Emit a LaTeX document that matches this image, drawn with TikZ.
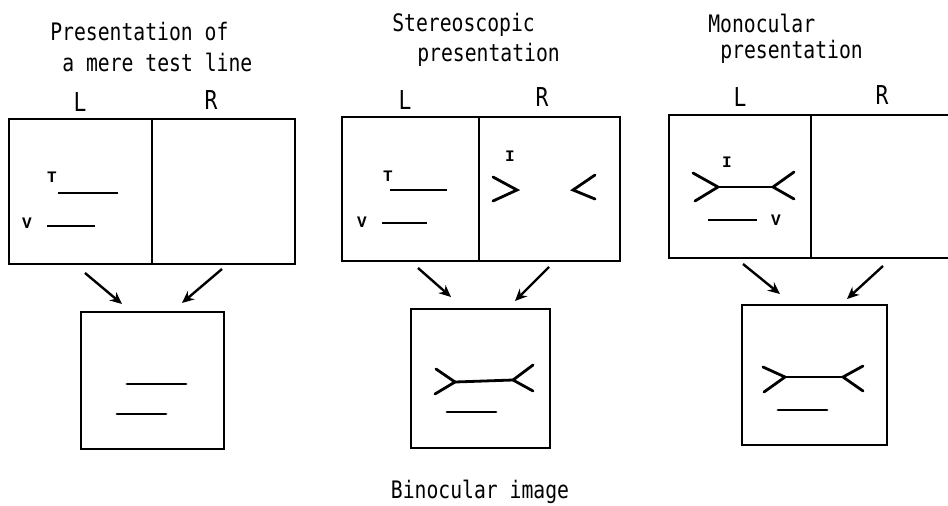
\documentclass[tikz,border=0pt]{standalone}
\usepackage{fontspec}
\usetikzlibrary{arrows.meta}
\newfontfamily\titlefont{DejaVu Sans Mono}
\newfontfamily\labfont{Liberation Mono}
\newcommand{\tall}[1]{\scalebox{1}[1.22]{#1}}
\begin{document}
\begin{tikzpicture}[x=0.75pt,y=-0.75pt,
  box/.style={draw, line width=1.6pt, inner sep=0pt, outer sep=0pt},
  fig/.style={line width=2.1pt, line cap=round},
  thin/.style={line width=1.6pt},
  title/.style={font=\titlefont\fontsize{14.8}{18}\selectfont, inner sep=0pt, anchor=west},
  eye/.style={font=\titlefont\fontsize{16}{18}\selectfont, inner sep=0pt},
  lab/.style={font=\labfont\bfseries\fontsize{12}{13}\selectfont, inner sep=0pt},
  arr/.style={-{Stealth[length=9pt,width=8pt]}, line width=1.8pt}]
\useasboundingbox (0,0) rectangle (948,506);

% ---------- panel 1 ----------
\node[title] (t1a) at (50,32) {\tall{Presentation of}};
\node[title] (t1b) at (62,62) {\tall{a mere test line}};
\node[eye] (l1) at (80,102) {\tall{L}};
\node[eye] (r1) at (211,100) {\tall{R}};
\node[box, minimum width=214pt, minimum height=108.75pt] (top1) at (152,191.5) {};
\draw[box] (top1.north) -- (top1.south);
\node[lab] (T1) at (52,177) {T};
\node[lab] (V1) at (27,223) {V};
\draw[thin] (58,193) -- (118,193);
\draw[thin] (47,226) -- (95,226);
\node[box, minimum width=107.25pt, minimum height=102.75pt] (bot1) at (152.5,380.5) {};
\draw[fig] (127,384) -- (186,384);
\draw[fig] (117,414) -- (166,414);
\coordinate (a1s) at (85,273); \coordinate (a1e) at (122,304);
\coordinate (b1s) at (222,269); \coordinate (b1e) at (182,303);
\draw[arr] (a1s) -- (a1e);
\draw[arr] (b1s) -- (b1e);

% ---------- panel 2 ----------
\node[title] (t2a) at (392,25) {\tall{Stereoscopic}};
\node[title] (t2b) at (417,55) {\tall{presentation}};
\node[eye] (l2) at (405,100) {\tall{L}};
\node[eye] (r2) at (542,97) {\tall{R}};
\node[box, minimum width=208.5pt, minimum height=108pt] (top2) at (481,189) {};
\draw[box] ([xshift=-1.5pt]top2.north) -- ([xshift=-1.5pt]top2.south);
\node[lab] (T2) at (388,176) {T};
\node[lab] (V2) at (362,222) {V};
\node[lab] (I2) at (510,156) {I};
\draw[thin] (390,190) -- (447,190);
\draw[thin] (382,223) -- (427,223);
\draw[fig] (493,177) -- (517,190) -- (493,201);
\draw[fig] (595,175) -- (573,190) -- (595,199);
\node[box, minimum width=104.25pt, minimum height=104.25pt] (bot2) at (480.5,378.5) {};
\draw[fig] (436,369) -- (455,382) -- (435,394);
\draw[fig] (455,382) -- (513,380);
\draw[fig] (533,365) -- (513,380) -- (533,391);
\draw[fig] (447,412) -- (496,412);
\coordinate (a2s) at (418,268); \coordinate (a2e) at (451,297);
\coordinate (b2s) at (549,267); \coordinate (b2e) at (515,301);
\draw[arr] (a2s) -- (a2e);
\draw[arr] (b2s) -- (b2e);
\node[title, anchor=center] (bin) at (480,492) {\tall{Binocular image}};

% ---------- panel 3 ----------
\node[title] (t3a) at (708,23) {\tall{Monocular}};
\node[title] (t3b) at (720,52) {\tall{presentation}};
\node[eye] (l3) at (740,97) {\tall{L}};
\node[eye] (r3) at (882,95) {\tall{R}};
\node[box, minimum width=213pt, minimum height=107.25pt] (top3) at (811,186.5) {};
\draw[box] (top3.north) -- (top3.south);
\node[lab] (I3) at (727,162) {I};
\node[lab] (V3) at (776,220) {V};
\draw[fig] (693,173) -- (718,187) -- (695,201);
\draw[fig] (718,187) -- (773,187);
\draw[fig] (794,172) -- (773,187) -- (794,199);
\draw[thin] (708,220) -- (757,220);
\node[box, minimum width=108.75pt, minimum height=105pt] (bot3) at (814.5,375) {};
\draw[fig] (763,367) -- (785,377) -- (764,392);
\draw[fig] (785,377) -- (843,377);
\draw[fig] (863,366) -- (843,377) -- (863,391);
\draw[fig] (778,410) -- (827,410);
\coordinate (a3s) at (743,264); \coordinate (a3e) at (780,294);
\coordinate (b3s) at (883,266); \coordinate (b3e) at (847,299);
\draw[arr] (a3s) -- (a3e);
\draw[arr] (b3s) -- (b3e);
\end{tikzpicture}
\end{document}
